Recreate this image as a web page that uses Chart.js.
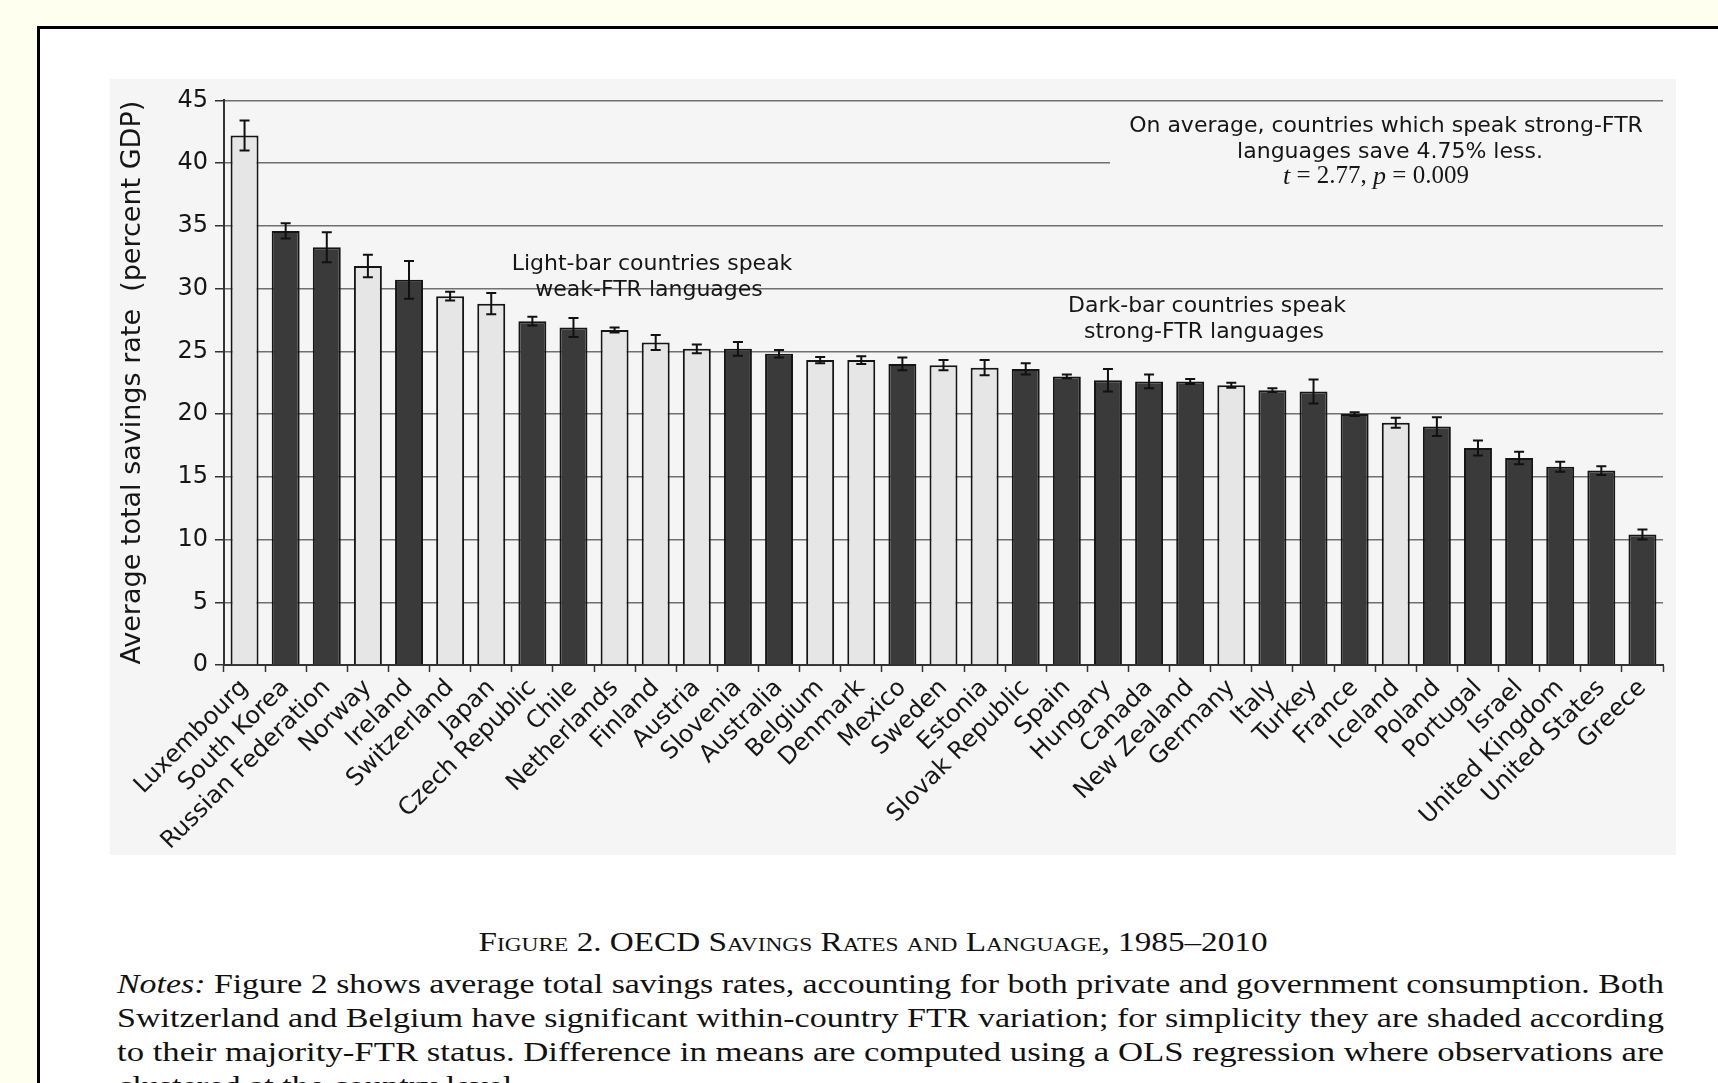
<!DOCTYPE html>
<html>
<head>
<meta charset="utf-8">
<script src="https://cdn.jsdelivr.net/npm/chart.js@4.4.1/dist/chart.umd.min.js"></script>
<style>
html,body{margin:0;padding:0;}
body{width:1718px;height:1083px;overflow:hidden;background:#fffff0;position:relative;}
#frame{position:absolute;left:37px;top:26px;width:1720px;height:1120px;background:#fff;border:3px solid #000;box-sizing:border-box;}
#wrap{position:absolute;left:110px;top:79px;width:1566px;height:776px;background:#f5f5f5;}
.serif{font-family:"Liberation Serif","Times New Roman",serif;color:#111;}
#caption{position:absolute;left:873px;top:942px;font-size:27px;font-variant:small-caps;white-space:nowrap;transform-origin:center center;line-height:30px;}
.note{position:absolute;left:117px;font-size:27px;line-height:34px;white-space:nowrap;transform-origin:left center;}
</style>
</head>
<body>
<div id="frame"></div>
<div id="wrap"><canvas id="chart"></canvas></div>
<div id="caption" class="serif">Figure 2. OECD Savings Rates and Language, 1985–2010</div>
<div class="note serif" style="top:967px" data-w="1547"><i>Notes:</i> Figure 2 shows average total savings rates, accounting for both private and government consumption. Both</div>
<div class="note serif" style="top:1001px" data-w="1547">Switzerland and Belgium have significant within-country FTR variation; for simplicity they are shaded according</div>
<div class="note serif" style="top:1035px" data-w="1547">to their majority-FTR status. Difference in means are computed using a OLS regression where observations are</div>
<div class="note serif" style="top:1069px">clustered at the country level.</div>
<script>
// ---------- data ----------
const countries = ["Luxembourg","South Korea","Russian Federation","Norway","Ireland","Switzerland","Japan","Czech Republic","Chile","Netherlands","Finland","Austria","Slovenia","Australia","Belgium","Denmark","Mexico","Sweden","Estonia","Slovak Republic","Spain","Hungary","Canada","New Zealand","Germany","Italy","Turkey","France","Iceland","Poland","Portugal","Israel","United Kingdom","United States","Greece"];
const savingsRate = [42.2,34.6,33.3,31.8,30.7,29.4,28.8,27.4,26.9,26.7,25.7,25.2,25.2,24.8,24.3,24.3,24.0,23.9,23.7,23.6,23.0,22.7,22.6,22.6,22.3,21.9,21.8,20.0,19.3,19.0,17.3,16.5,15.8,15.5,10.4];
const errorMargin = [1.2,0.6,1.2,0.9,1.5,0.35,0.85,0.35,0.75,0.2,0.6,0.35,0.55,0.3,0.25,0.3,0.5,0.4,0.6,0.45,0.15,0.9,0.55,0.2,0.2,0.15,0.95,0.15,0.4,0.75,0.6,0.5,0.4,0.35,0.4];
const ftrGroup = ["weak","strong","strong","weak","strong","weak","weak","strong","strong","weak","weak","weak","strong","strong","weak","weak","strong","weak","weak","strong","strong","strong","strong","strong","weak","strong","strong","strong","weak","strong","strong","strong","strong","strong","strong"];
const yTickValues = [0,5,10,15,20,25,30,35,40,45];
const yTitle = "Average total savings rate  (percent GDP)";
const lightNote = ["Light-bar countries speak","weak-FTR languages"];
const darkNote = ["Dark-bar countries speak","strong-FTR languages"];
const avgNote = ["On average, countries which speak strong-FTR","languages save 4.75% less."];
const statNote = [["t","italic"],[" = 2.77, ","normal"],["p","italic"],[" = 0.009","normal"]];

// ---------- fit caption / notes text ----------
const notes = document.querySelectorAll('.note');
const sc = [];
notes.forEach(n => { if (n.dataset.w) { const w = n.getBoundingClientRect().width; const s = (+n.dataset.w) / w; sc.push(s); n.style.transform = 'scaleX(' + s + ')'; } });
const avgS = sc.reduce((a,b)=>a+b,0)/sc.length;
notes.forEach(n => { if (!n.dataset.w) n.style.transform = 'scaleX(' + avgS + ')'; });
const cap = document.getElementById('caption');
const cw = cap.getBoundingClientRect().width;
cap.style.transform = 'translate(-50%,-50%) scaleX(' + (789 / cw) + ')';

// ---------- chart ----------
const BG = '#f5f5f5', LIGHT = '#e6e6e6', DARK = '#3a3a3a', INK = '#161616';
const SANS = '"DejaVu Sans", sans-serif';

const bgPlugin = {
  id: 'bg',
  beforeDraw(chart) {
    const c = chart.ctx; c.save(); c.fillStyle = BG; c.fillRect(0, 0, chart.width, chart.height); c.restore();
  },
  beforeDatasetsDraw(chart) {
    // white-out the 40 gridline behind the top-right note
    const c = chart.ctx, y = chart.scales.y.getPixelForValue(40), a = chart.chartArea;
    c.save(); c.fillStyle = BG; c.fillRect(1000, y - 2.5, a.right - 1000 + 2, 5); c.restore();
  }
};

const errPlugin = {
  id: 'err',
  afterDatasetsDraw(chart) {
    const c = chart.ctx, ys = chart.scales.y, meta = chart.getDatasetMeta(0);
    c.save(); c.strokeStyle = '#111'; c.lineWidth = 2;
    meta.data.forEach((bar, i) => {
      const x = bar.x, y1 = ys.getPixelForValue(savingsRate[i] + errorMargin[i]), y2 = ys.getPixelForValue(savingsRate[i] - errorMargin[i]);
      c.beginPath();
      c.moveTo(x, y1); c.lineTo(x, y2);
      c.moveTo(x - 5, y1); c.lineTo(x + 5, y1);
      c.moveTo(x - 5, y2); c.lineTo(x + 5, y2);
      c.stroke();
    });
    c.restore();
  }
};

const notePlugin = {
  id: 'notes',
  afterDraw(chart) {
    const c = chart.ctx, ys = chart.scales.y;
    c.save();
    c.fillStyle = INK; c.textAlign = 'center'; c.textBaseline = 'middle';
    c.font = '22px ' + SANS;
    c.fillText(lightNote[0], 542, ys.getPixelForValue(31.9));
    c.fillText(lightNote[1], 539, ys.getPixelForValue(29.85));
    c.fillText(darkNote[0], 1097, ys.getPixelForValue(28.6));
    c.fillText(darkNote[1], 1094, ys.getPixelForValue(26.55));
    c.font = '22px ' + SANS;
    c.fillText(avgNote[0], 1276, ys.getPixelForValue(42.9));
    c.fillText(avgNote[1], 1280, ys.getPixelForValue(40.9));
    // statistics line with italic t and p
    const fonts = { italic: 'italic 26px "Liberation Serif", serif', normal: '25px "Liberation Serif", serif' };
    let total = 0;
    statNote.forEach(s => { c.font = fonts[s[1]]; total += c.measureText(s[0]).width; });
    let x = 1266 - total / 2; const y = ys.getPixelForValue(38.9);
    c.textAlign = 'left';
    statNote.forEach(s => { c.font = fonts[s[1]]; c.fillText(s[0], x, y); x += c.measureText(s[0]).width; });
    c.restore();
  }
};

new Chart(document.getElementById('chart'), {
  type: 'bar',
  data: {
    labels: countries,
    datasets: [{
      data: savingsRate,
      backgroundColor: ftrGroup.map(g => g === 'weak' ? LIGHT : DARK),
      borderColor: '#151515',
      borderWidth: 2,
      barPercentage: 0.68,
      categoryPercentage: 1.0
    }]
  },
  options: {
    responsive: true,
    maintainAspectRatio: false,
    animation: false,
    devicePixelRatio: 1,
    layout: { padding: { left: 0, right: 13, top: 19, bottom: 0 } },
    plugins: { legend: { display: false }, tooltip: { enabled: false } },
    scales: {
      x: {
        offset: true,
        grid: { display: true, drawOnChartArea: false, drawTicks: true, tickLength: 7, tickColor: '#333', tickWidth: 1.5, offset: true },
        border: { display: true, color: '#333', width: 2 },
        ticks: { autoSkip: false, minRotation: 45, maxRotation: 45, color: INK, font: { family: SANS, size: 24 }, padding: 2 },
        afterFit(s) { s.height = 190; }
      },
      y: {
        min: 0, max: 45,
        afterBuildTicks(s) { s.ticks = yTickValues.map(v => ({ value: v })); },
        grid: { color: '#707070', lineWidth: 1.5, tickLength: 9, tickColor: '#333', drawTicks: true },
        border: { display: true, color: '#333', width: 2 },
        ticks: { color: INK, font: { family: SANS, size: 24 }, padding: 7 },
        title: { display: true, text: yTitle, color: INK, font: { family: SANS, size: 27 }, padding: { top: 7, bottom: 0 } },
        afterFit(s) { s.width = 114; }
      }
    }
  },
  plugins: [bgPlugin, errPlugin, notePlugin]
});
</script>
</body>
</html>
